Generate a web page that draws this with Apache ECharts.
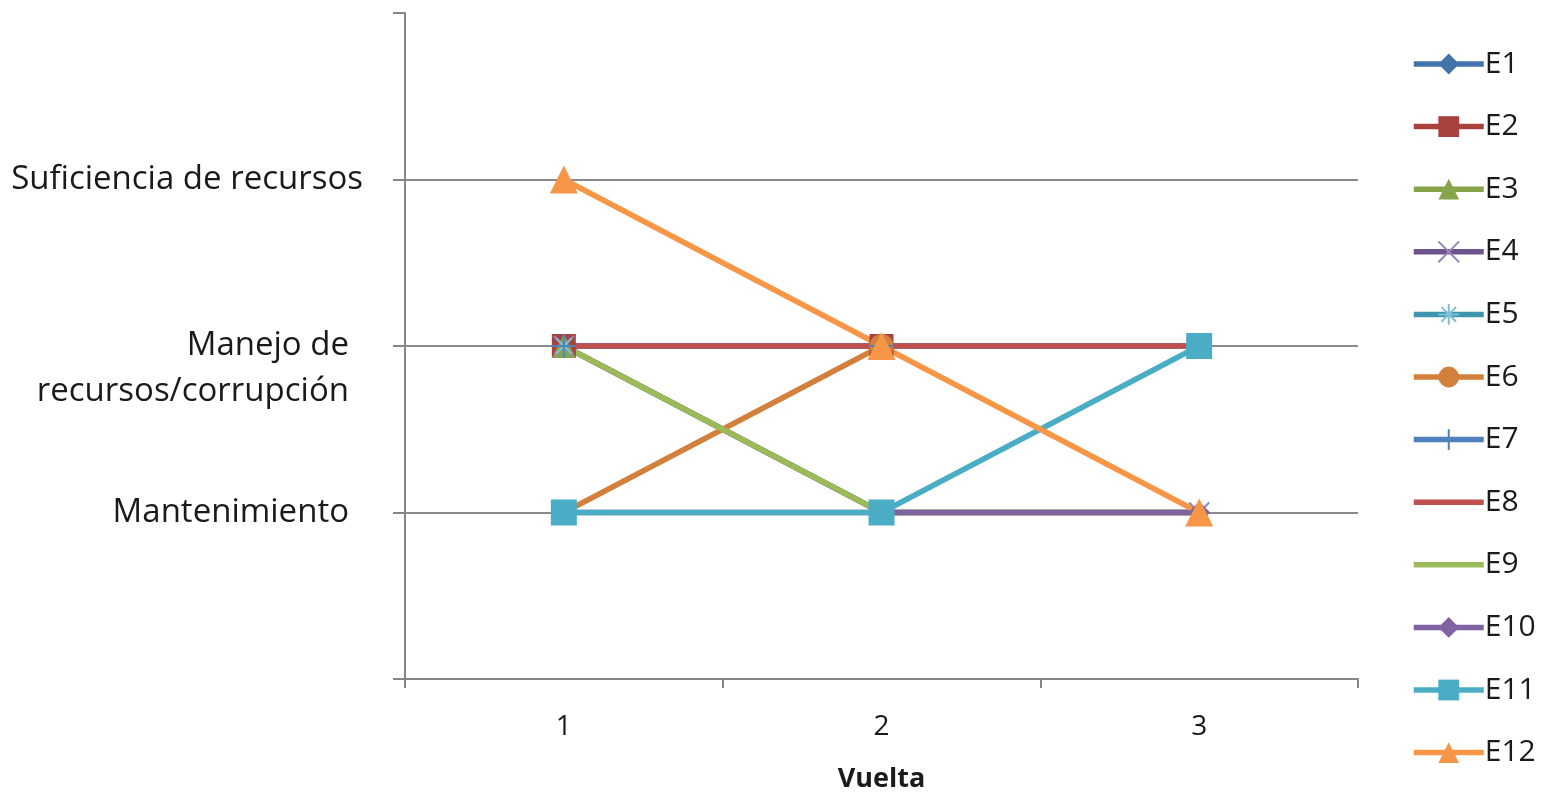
<!DOCTYPE html>
<html>
<head>
<meta charset="utf-8">
<script src="https://cdn.jsdelivr.net/npm/echarts@6/dist/echarts.min.js"></script>
<style>
  html, body { margin: 0; padding: 0; background: #fff; }
  #chart { width: 1547px; height: 793px; }
</style>
</head>
<body>
<div id="chart"></div>
<script>
// Rounds on the x axis
const categories = ['1', '2', '3'];
// Level names shown on the y axis (value -> name)
const levelNames = ['', 'Mantenimiento', 'Manejo de recursos/corrupción', 'Suficiencia de recursos', ''];

const seriesNames = ['E1', 'E2', 'E3', 'E4', 'E5', 'E6', 'E7', 'E8', 'E9', 'E10', 'E11', 'E12'];
const E1 = [2, 2, 2];
const E2 = [2, 2, 2];
const E3 = [2, 1, 1];
const E4 = [2, 1, 1];
const E5 = [2, 2, 2];
const E6 = [1, 2, 2];
const E7 = [2, 2, 2];
const E8 = [2, 2, 2];
const E9 = [2, 1, 1];
const E10 = [1, 1, 1];
const E11 = [1, 1, 2];
const E12 = [3, 2, 1];
const seriesValues = [E1, E2, E3, E4, E5, E6, E7, E8, E9, E10, E11, E12];

const lineColors = ['#4472ab', '#a8423f', '#86a44a', '#6e548d', '#3d96ae', '#d2803c',
                    '#4f81bd', '#c0504d', '#9bbb59', '#8064a2', '#4bacc6', '#f79646'];
const markerColors = ['#4472ab', '#a8423f', '#86a44a', '#9a86b8', '#7fc0d4', '#d2803c',
                      '#4f81bd', '#c0504d', '#9bbb59', '#8064a2', '#4bacc6', '#f79646'];

const X_PATH = 'path://M0,0L10,10M10,0L0,10';
const STAR_PATH = 'path://M5,0L5,10M0,5L10,5M1.5,1.5L8.5,8.5M8.5,1.5L1.5,8.5';
const PLUS_PATH = 'path://M5,0L5,10M0,5L10,5';
const markers = [
  { symbol: 'diamond', size: 22, kind: 'fill' },
  { symbol: 'rect', size: 24, kind: 'fill' },
  { symbol: 'triangle', size: 24, kind: 'fill' },
  { symbol: X_PATH, size: 20, kind: 'stroke' },
  { symbol: STAR_PATH, size: 22, kind: 'stroke' },
  { symbol: 'circle', size: 24, kind: 'fill' },
  { symbol: PLUS_PATH, size: 24, kind: 'stroke' },
  { symbol: 'none', size: 0, kind: 'none' },
  { symbol: 'none', size: 0, kind: 'none' },
  { symbol: 'diamond', size: 22, kind: 'fill' },
  { symbol: 'rect', size: 26, kind: 'fill' },
  { symbol: 'triangle', size: 28, kind: 'fill' }
];

function markerStyle(i) {
  const k = markers[i].kind;
  if (k === 'stroke') return { color: 'rgba(0,0,0,0)', borderColor: markerColors[i], borderWidth: 2 };
  // line-only series: keep the legend marker invisible, the line keeps its own colour
  if (k === 'none') return { color: 'rgba(0,0,0,0)', borderWidth: 0 };
  return { color: markerColors[i], borderWidth: 0 };
}

const series = seriesNames.map((name, i) => ({
  name: name,
  type: 'line',
  data: seriesValues[i],
  symbol: markers[i].symbol,
  symbolSize: markers[i].size,
  showSymbol: markers[i].symbol !== 'none',
  itemStyle: markerStyle(i),
  lineStyle: { color: lineColors[i], width: 5.5 },
  emphasis: { disabled: true },
  animation: false
}));

const chart = echarts.init(document.getElementById('chart'), null, { renderer: 'canvas' });
const FONT = '"Open Sans", "Noto Sans", sans-serif';

chart.setOption({
  backgroundColor: '#ffffff',
  textStyle: { fontFamily: FONT },
  color: lineColors,
  grid: { left: 405, right: 189, top: 13, bottom: 114, outerBoundsMode: 'none', containLabel: false },
  legend: {
    orient: 'vertical',
    left: 1406,
    top: 43,
    itemWidth: 70,
    itemHeight: 26,
    itemGap: 30.6,
    data: seriesNames,
    lineStyle: { width: 5.5 },
    textStyle: { fontSize: 30, lineHeight: 32, color: '#1a1a1a', fontFamily: FONT, padding: [0, 0, 0, -4] }
  },
  xAxis: {
    type: 'category',
    data: categories,
    boundaryGap: true,
    name: 'Vuelta',
    nameLocation: 'middle',
    nameGap: 86,
    nameTextStyle: { fontSize: 27, lineHeight: 28, fontWeight: 'bold', color: '#1a1a1a', fontFamily: FONT },
    axisLine: { lineStyle: { color: '#868686', width: 2 } },
    axisTick: { show: true, alignWithLabel: false, length: 9, lineStyle: { color: '#868686', width: 2 } },
    axisLabel: { fontSize: 28, color: '#1a1a1a', margin: 34, fontFamily: FONT },
    splitLine: { show: false }
  },
  yAxis: {
    type: 'value',
    min: 0,
    max: 4,
    interval: 1,
    axisLine: { show: true, lineStyle: { color: '#868686', width: 2 } },
    axisTick: { show: true, length: 12, lineStyle: { color: '#868686', width: 2 } },
    splitLine: { show: true, showMaxLine: false, lineStyle: { color: '#8a8a8a', width: 2 } },
    axisLabel: {
      margin: 42,
      color: '#1a1a1a',
      fontFamily: FONT,
      fontSize: 33,
      align: 'right',
      formatter: function (v) {
        const name = levelNames[v] || '';
        if (!name) return '';
        if (v === 2) return '{e| }\n{m|Manejo de}\n{m|recursos/corrupción}';
        if (v === 3) return '{s|' + name + '}';
        return '{m|' + name + '}';
      },
      rich: {
        s: { fontSize: 33, lineHeight: 46, color: '#1a1a1a', fontFamily: FONT, align: 'right' },
        m: { fontSize: 33, lineHeight: 46, color: '#1a1a1a', fontFamily: FONT, align: 'right', padding: [0, 14, 0, 0] },
        e: { fontSize: 33, lineHeight: 46, align: 'right' }
      }
    }
  },
  series: series
});
</script>
</body>
</html>
